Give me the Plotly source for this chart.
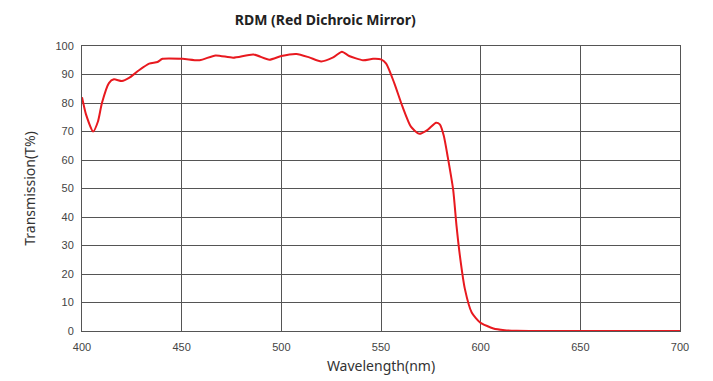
import plotly.graph_objects as go

wavelength = [400, 402, 405.6, 408, 410, 413.5, 416, 420, 423.6, 428.6, 433.7, 437.9, 440.4,
              450.5, 459, 467, 475.8, 486, 494, 500, 507.6, 514, 520, 526, 530.4, 534, 541,
              546, 550, 552.6, 556.7, 560.8, 565, 569.2, 573.4, 577.6, 579.5, 581.5,
              583.5, 586.2, 587.9, 589.6, 592.1, 595.5, 599.7, 606.4, 612, 618, 630, 650, 700]
transmission = [82, 76, 70, 73.5, 80, 87, 88.3, 87.7, 88.8, 91.5, 93.8, 94.4, 95.5,
                95.5, 95, 96.7, 95.9, 97, 95.2, 96.5, 97.2, 96, 94.6, 96, 98, 96.5, 95,
                95.5, 95.3, 93.8, 86.9, 78.7, 71.7, 69.2, 70.6, 73.1, 72.5, 68.5,
                61, 49.6, 36.8, 26.3, 14.7, 6.5, 3, 0.9, 0.3, 0.1, 0, 0, 0]

x_ticks = [400, 450, 500, 550, 600, 650, 700]
y_ticks = [0, 10, 20, 30, 40, 50, 60, 70, 80, 90, 100]

fig = go.Figure()
fig.add_trace(go.Scatter(x=wavelength, y=transmission, mode="lines",
                         line=dict(color="#e8191f", width=2, shape="spline", smoothing=0.6),
                         hoverinfo="skip"))

fig.update_layout(
    width=705, height=373,
    margin=dict(l=74, r=33, t=38, b=50),
    paper_bgcolor="white", plot_bgcolor="white",
    showlegend=False,
    title=dict(text="<b>RDM (Red Dichroic Mirror)</b>", x=0.45, xanchor="center",
               y=0.968, yanchor="middle",
               font=dict(family="Noto Sans, Open Sans, sans-serif", size=14, color="#222")),
)
fig.update_xaxes(range=[400, 700], tickvals=x_ticks, ticktext=[str(v) for v in x_ticks],
                 automargin=False,
                 showgrid=True, gridcolor="#555", gridwidth=1,
                 showline=True, linecolor="#555", linewidth=1, mirror=True,
                 zeroline=False, ticks="outside", ticklen=6, tickcolor="rgba(0,0,0,0)",
                 tickfont=dict(family="Liberation Sans Narrow, Liberation Sans, sans-serif", size=11, color="#444"),
                 title=dict(text="Wavelength(nm)", standoff=8,
                            font=dict(family="Noto Sans, sans-serif", size=14, color="#333")))
fig.update_yaxes(range=[0, 100], tickvals=y_ticks, ticktext=[str(v) for v in y_ticks],
                 automargin=False,
                 showgrid=True, gridcolor="#555", gridwidth=1,
                 showline=True, linecolor="#555", linewidth=1, mirror=True,
                 zeroline=False, ticks="outside", ticklen=5, tickcolor="rgba(0,0,0,0)",
                 tickfont=dict(family="Liberation Sans Narrow, Liberation Sans, sans-serif", size=11, color="#444"),
                 title=dict(text="Transmission(T%)", standoff=16,
                            font=dict(family="Noto Sans, sans-serif", size=14, color="#333")))

fig.write_html("out.html")
